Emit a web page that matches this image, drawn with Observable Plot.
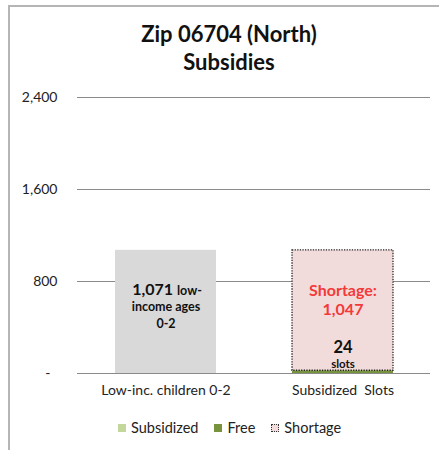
<!DOCTYPE html>
<html>
<head>
<meta charset="utf-8">
<script src="https://cdn.jsdelivr.net/npm/d3@7"></script>
<script src="https://cdn.jsdelivr.net/npm/@observablehq/plot@0.6"></script>
<style>
  html, body { margin: 0; padding: 0; background: #fff; overflow: hidden; }
  body { width: 439px; height: 450px; position: relative; font-family: Lato, "Open Sans", sans-serif; }
  #frame { position: absolute; left: 8px; top: 5px; width: 431px; height: 445px;
           border-top: 2px solid #b5b5b5; border-left: 2px solid #b5b5b5; box-sizing: border-box; }
  #title { position: absolute; left: 0; top: 20px; width: 458px; text-align: center;
           font-weight: bold; font-size: 22px; line-height: 28px; color: #111; }
  #chart { position: absolute; left: 0; top: 80px; }
  #chart svg text { white-space: pre; }
  #legend { position: absolute; left: 118px; top: 420px; display: flex; align-items: center;
            font-size: 14.5px; line-height: 16px; color: #222; }
  .item { display: flex; align-items: center; margin-right: 16px; }
  .sw { width: 8px; height: 8px; margin-right: 5px; box-sizing: border-box; }
</style>
</head>
<body>
<div id="frame"></div>
<div id="title"></div>
<div id="chart"></div>
<div id="legend"></div>
<script>
// ---- data ----
const titleLines = ["Zip 06704 (North)", "Subsidies"];
const categories = ["Low-inc. children 0-2", "Subsidized  Slots"];
const seriesNames = ["Low-income children", "Subsidized", "Free", "Shortage"];
const lowIncome  = [1071, 0];
const subsidized = [0, 0];
const free       = [0, 24];
const shortage   = [0, 1047];
const seriesColors = ["#d9d9d9", "#c3d69b", "#77933c", "#f2dcdb"];
const yTicks = [0, 800, 1600, 2400];
const yTickLabels = ["-  ", "800", "1,600", "2,400"];
const legendNames = ["Subsidized", "Free", "Shortage"];
const childValueLabel = "1,071";
const childLabelLines = ["low-", "income ages", "0-2"];
const shortageLabelLines = ["Shortage:", "1,047"];
const slotsLabelLines = ["24", "slots"];

// ---- title ----
document.getElementById("title").innerHTML = titleLines.join("<br>");

// ---- tidy rows ----
const seriesValues = [lowIncome, subsidized, free, shortage];
const rows = [];
categories.forEach((c, i) => {
  seriesNames.forEach((s, j) => rows.push({category: c, series: s, value: seriesValues[j][i]}));
});
// outline for shortage segment
const outline = categories.map((c, i) => ({
  category: c,
  base: lowIncome[i] + subsidized[i] + free[i],
  top: lowIncome[i] + subsidized[i] + free[i] + shortage[i],
  v: shortage[i]
})).filter(d => d.v > 0);

const totals = categories.map((c, i) => ({category: c, total: lowIncome[i] + subsidized[i] + free[i] + shortage[i]}));

const fmtTick = d => yTickLabels[yTicks.indexOf(d)];

const chart = Plot.plot({
  width: 439,
  height: 340,
  marginTop: 17,
  marginBottom: 47,
  marginLeft: 77,
  marginRight: 9,
  style: {fontFamily: "Lato, sans-serif", fontSize: "14px", color: "#222", background: "transparent", overflow: "visible"},
  x: {domain: categories, paddingInner: 0.43, paddingOuter: 0.21, label: null, tickSize: 0, tickPadding: 12},
  y: {domain: [0, 2400], ticks: yTicks, tickFormat: fmtTick, label: null, tickSize: 0, tickPadding: 20},
  color: {domain: seriesNames, range: seriesColors},
  marks: [
    Plot.ruleY(yTicks, {stroke: "#8a8a8a", strokeWidth: 1}),
    Plot.barY(rows, Plot.stackY({x: "category", y: "value", fill: "series", order: seriesNames})),
    Plot.barY(outline, {x: "category", y1: "base", y2: "top", fill: "none", stroke: "#222",
                        strokeWidth: 1.3, strokeDasharray: "1.3 1.3"}),
    // low-income bar labels
    Plot.text([totals[0]], {x: "category", y: "total", text: () => childValueLabel, dy: 40, dx: 7,
               textAnchor: "end", fontWeight: "bold", fontSize: 16, fill: "#111"}),
    Plot.text([totals[0]], {x: "category", y: "total", text: () => childLabelLines[0], dy: 41, dx: 11,
               textAnchor: "start", fontWeight: "bold", fontSize: 12.5, fill: "#111"}),
    Plot.text([totals[0]], {x: "category", y: "total", text: () => childLabelLines[1], dy: 57,
               fontWeight: "bold", fontSize: 12.5, fill: "#111"}),
    Plot.text([totals[0]], {x: "category", y: "total", text: () => childLabelLines[2], dy: 74,
               fontWeight: "bold", fontSize: 12.5, fill: "#111"}),
    // shortage labels
    Plot.text([totals[1]], {x: "category", y: "total", text: () => shortageLabelLines[0], dy: 41,
               fontWeight: "bold", fontSize: 16, fill: "#f23a3a"}),
    Plot.text([totals[1]], {x: "category", y: "total", text: () => shortageLabelLines[1], dy: 60,
               fontWeight: "bold", fontSize: 16, fill: "#f23a3a"}),
    // slots labels
    Plot.text([categories[1]], {x: d => d, y: () => 0, text: () => slotsLabelLines[0], dy: -26,
               fontWeight: "bold", fontSize: 16.5, fill: "#111"}),
    Plot.text([categories[1]], {x: d => d, y: () => 0, text: () => slotsLabelLines[1], dy: -9,
               fontWeight: "bold", fontSize: 11.5, fill: "#111"})
  ]
});
document.getElementById("chart").appendChild(chart);

// ---- legend ----
const legend = document.getElementById("legend");
legendNames.forEach(name => {
  const j = seriesNames.indexOf(name);
  const item = document.createElement("div");
  item.className = "item";
  const sw = document.createElement("span");
  sw.className = "sw";
  sw.style.background = seriesColors[j];
  if (name === "Shortage") sw.style.border = "1.3px dotted #333";
  item.appendChild(sw);
  const t = document.createElement("span");
  t.textContent = name;
  item.appendChild(t);
  legend.appendChild(item);
});
</script>
</body>
</html>
